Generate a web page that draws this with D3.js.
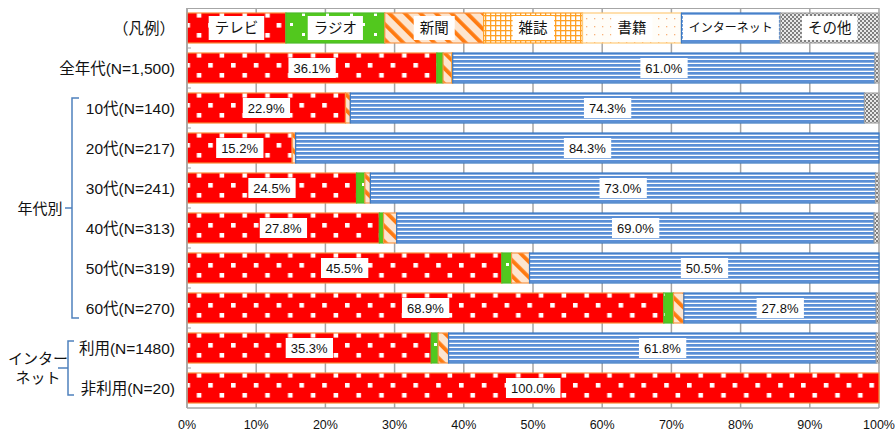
<!DOCTYPE html>
<html><head><meta charset="utf-8">
<script src="https://cdn.jsdelivr.net/npm/d3@7"></script>
<style>
html,body{margin:0;padding:0;background:#fff;}
svg{display:block;font-family:"Liberation Sans","Noto Sans CJK JP",sans-serif;}
</style></head>
<body><svg id="c" width="895" height="434"></svg>
<script>
// ---- data ----
const categories = ["（凡例）","全年代(N=1,500)","10代(N=140)","20代(N=217)","30代(N=241)","40代(N=313)","50代(N=319)","60代(N=270)","利用(N=1480)","非利用(N=20)"];
const seriesNames = ["テレビ","ラジオ","新聞","雑誌","書籍","インターネット","その他"];
const tv        = [14.29, 36.1, 22.9, 15.2, 24.5, 27.8, 45.5, 68.9, 35.3, 100.0];
const radio     = [14.29,  0.9,  0.0,  0.0,  1.2,  0.6,  1.4,  1.4,  1.0,   0.0];
const newspaper = [14.29,  1.3,  0.7,  0.5,  0.8,  1.9,  2.6,  1.5,  1.5,   0.0];
const magazine  = [14.29,  0.1,  0.0,  0.0,  0.0,  0.0,  0.0,  0.0,  0.0,   0.0];
const books     = [14.29,  0.0,  0.0,  0.0,  0.0,  0.0,  0.0,  0.0,  0.0,   0.0];
const internet  = [14.29, 61.0, 74.3, 84.3, 73.0, 69.0, 50.5, 27.8, 61.8,   0.0];
const other     = [14.27,  0.6,  2.1,  0.0,  0.5,  0.7,  0.0,  0.4,  0.4,   0.0];
const tickValues = [0,10,20,30,40,50,60,70,80,90,100];
const groups = [
  {label:["年代別"], from:2, to:7},
  {label:["インター","ネット"], from:8, to:9}
];

const seriesData = [tv, radio, newspaper, magazine, books, internet, other];

// ---- layout ----
const svg = d3.select("#c");
const x = d3.scaleLinear().domain([0,100]).range([187,879]);
const y = d3.scaleBand().domain(d3.range(categories.length)).range([8,408]).paddingInner(0.25).paddingOuter(0.125);

// ---- patterns ----
const defs = svg.append("defs");
function pat(id,w,h){ return defs.append("pattern").attr("id",id).attr("patternUnits","userSpaceOnUse").attr("width",w).attr("height",h); }
// TV: red with white squares
let p = pat("p0",22.8,20);
p.append("rect").attr("width",22.8).attr("height",20).attr("fill","#FF0000");
p.append("rect").attr("x",3).attr("y",3).attr("width",4.6).attr("height",4.6).attr("fill","#fff");
p.append("rect").attr("x",14.4).attr("y",13).attr("width",4.6).attr("height",4.6).attr("fill","#fff");
// Radio: green with sparse white dots
p = pat("p1",24,20);
p.append("rect").attr("width",24).attr("height",20).attr("fill","#52C81E");
p.append("rect").attr("x",2).attr("y",3).attr("width",3).attr("height",3).attr("fill","#fff");
p.append("rect").attr("x",14).attr("y",13).attr("width",3).attr("height",3).attr("fill","#fff");
// Newspaper: peach with orange diagonal stripes
p = pat("p2",11,11).attr("patternTransform","rotate(-45)");
p.append("rect").attr("width",11).attr("height",11).attr("fill","#FDE5CF");
p.append("rect").attr("x",0).attr("y",0).attr("width",3.8).attr("height",11).attr("fill","#FF7A10");
// Magazine: orange grid
p = pat("p3",5,5);
p.append("rect").attr("width",5).attr("height",5).attr("fill","#fff");
p.append("rect").attr("x",0).attr("y",0).attr("width",1.3).attr("height",5).attr("fill","#FFA023");
p.append("rect").attr("x",0).attr("y",0).attr("width",5).attr("height",1.3).attr("fill","#FFA023");
// Books: sparse light-orange dots
p = pat("p4",8,8);
p.append("rect").attr("width",8).attr("height",8).attr("fill","#FFFDF8");
p.append("rect").attr("x",2).attr("y",2).attr("width",1.3).attr("height",1.3).attr("fill","#F9B27A");
// Internet: blue horizontal stripes
p = pat("p5",4,4);
p.append("rect").attr("width",4).attr("height",4).attr("fill","#fff");
p.append("rect").attr("x",0).attr("y",0).attr("width",4).attr("height",2.7).attr("fill","#5A8FD6");
// Other: grey checkerboard
p = pat("p6",4,4);
p.append("rect").attr("width",4).attr("height",4).attr("fill","#E8E8E8");
p.append("rect").attr("x",0).attr("y",0).attr("width",2).attr("height",2).attr("fill","#7F7F7F");
p.append("rect").attr("x",2).attr("y",2).attr("width",2).attr("height",2).attr("fill","#7F7F7F");

const strokes = ["#F98A3A","#4DBB2A","#F79646","#FFA023","#FFCB7A","#3A78C2","#A6A6A6"];

// ---- grid ----
const g = svg.append("g");
g.selectAll("line.grid").data(tickValues).enter().append("line")
  .attr("x1",d=>x(d)).attr("x2",d=>x(d)).attr("y1",8).attr("y2",408)
  .attr("stroke","#A6A6A6").attr("stroke-width",1.5);
g.append("line").attr("x1",187).attr("x2",879).attr("y1",8.5).attr("y2",8.5).attr("stroke","#A6A6A6").attr("stroke-width",1.2);

// ---- bars ----
const rows = categories.map((c,i)=>{
  let acc=0;
  return seriesData.map((s,k)=>{ const v=s[i]; const seg={row:i,k,x0:acc,x1:acc+v,v}; acc+=v; return seg; });
});
const segs = rows.flat().filter(d=>d.v>0);
svg.append("g").selectAll("rect").data(segs).enter().append("rect")
  .attr("x",d=>x(d.x0)).attr("width",d=>x(d.x1)-x(d.x0))
  .attr("y",d=>y(d.row)).attr("height",y.bandwidth())
  .attr("fill",d=>`url(#p${d.k})`)
  .attr("stroke",d=>strokes[d.k]).attr("stroke-width",1.2);

// ---- labels ----
const labels = [];
rows.forEach((r,i)=>{
  r.forEach(d=>{
    if(i===0) labels.push({row:i,cx:(d.x0+d.x1)/2,text:seriesNames[d.k],legend:true,k:d.k});
    else if((d.k===0||d.k===5) && d.v>0) labels.push({row:i,cx:(d.x0+d.x1)/2,text:d3.format(".1f")(d.v)+"%",legend:false});
  });
});
const lg = svg.append("g");
labels.forEach(l=>{
  const fs = l.legend ? (l.k===5?12:14.5) : 13;
  const t = lg.append("text").attr("x",x(l.cx)).attr("y",y(l.row)+y.bandwidth()/2)
    .attr("text-anchor","middle").attr("dominant-baseline","central")
    .attr("font-size",fs).attr("fill","#111").text(l.text);
  const bb = t.node().getBBox();
  const padX = l.legend?6:5, h = l.legend?24:20;
  lg.insert("rect","text").attr("x",bb.x-padX).attr("y",y(l.row)+y.bandwidth()/2-h/2)
    .attr("width",bb.width+2*padX).attr("height",h).attr("fill","#fff");
});
lg.selectAll("text").raise();

// ---- left axis ----
svg.append("line").attr("x1",187).attr("x2",187).attr("y1",8).attr("y2",408).attr("stroke","#A6A6A6").attr("stroke-width",1.5);
svg.append("g").selectAll("line").data(d3.range(1,categories.length)).enter().append("line")
  .attr("x1",187).attr("x2",191).attr("y1",d=>y(d)-y.step()*0.125).attr("y2",d=>y(d)-y.step()*0.125)
  .attr("stroke","#A6A6A6").attr("stroke-width",1);
svg.append("g").selectAll("text").data(categories).enter().append("text")
  .attr("x",175).attr("y",(d,i)=>y(i)+y.bandwidth()/2)
  .attr("text-anchor","end").attr("dominant-baseline","central")
  .attr("font-size",15.5).attr("fill","#111").text(d=>d);

// ---- bottom axis ----
svg.append("line").attr("x1",187).attr("x2",879).attr("y1",408).attr("y2",408).attr("stroke","#A6A6A6").attr("stroke-width",1.5);
svg.append("g").selectAll("text").data(tickValues).enter().append("text")
  .attr("x",d=>x(d)).attr("y",425).attr("text-anchor","middle").attr("dominant-baseline","central")
  .attr("font-size",12.5).attr("fill","#111").text(d=>d+"%");

// ---- group brackets ----
const gb = svg.append("g");
groups.forEach((gr,gi)=>{
  const top = y(gr.from)+y.bandwidth()/2 - 10 - (gi===0?0:-3);
  const bot = y(gr.to)+y.bandwidth()/2 + 10 - (gi===0?0:3);
  const bx = gi===0?72:68, tx = gi===0?79:74, mx = gi===0?65:58;
  const mid = (top+bot)/2;
  gb.append("path").attr("d",`M${tx},${top} L${bx},${top} L${bx},${bot} L${tx},${bot} M${bx},${mid} L${mx},${mid}`)
    .attr("fill","none").attr("stroke","#4F81BD").attr("stroke-width",1.5);
  const n = gr.label.length;
  gr.label.forEach((s,j)=>{
    gb.append("text").attr("x",gi===0?40:38).attr("y",mid+(j-(n-1)/2)*19)
      .attr("text-anchor","middle").attr("dominant-baseline","central")
      .attr("font-size",15).attr("fill","#111").text(s);
  });
});
</script></body></html>
